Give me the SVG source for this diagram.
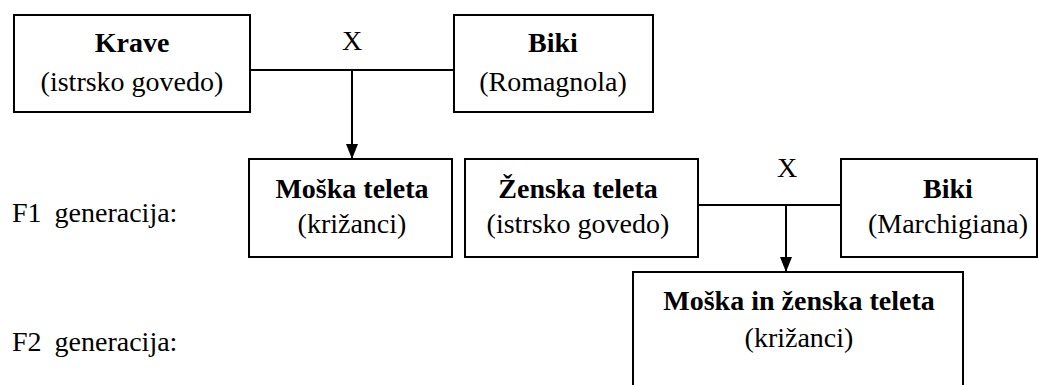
<svg xmlns="http://www.w3.org/2000/svg" width="1038" height="385" viewBox="0 0 1038 385">
<defs>
<marker id="arr" markerWidth="15" markerHeight="12" refX="15" refY="6" orient="auto" markerUnits="userSpaceOnUse" viewBox="0 0 15 12">
<path d="M0,0 L15,6 L0,12 Z" fill="#000"/>
</marker>
</defs>
<rect x="0" y="0" width="1038" height="385" fill="#fff"/>
<g id="labels">
<text x="12" y="222" font-size="28" font-family="Liberation Serif" word-spacing="6">F1 generacija:</text>
<text x="12" y="351" font-size="28" font-family="Liberation Serif" word-spacing="6">F2 generacija:</text>
</g>
<g id="krave">
<rect x="14" y="15" width="236" height="97" fill="#fff" stroke="#000" stroke-width="2"/>
<text x="132" y="52" font-size="28" font-family="Liberation Serif" font-weight="bold" text-anchor="middle">Krave</text>
<text x="132" y="91" font-size="28" font-family="Liberation Serif" text-anchor="middle">(istrsko govedo)</text>
</g>
<g id="biki1">
<rect x="454" y="15" width="199" height="97" fill="#fff" stroke="#000" stroke-width="2"/>
<text x="553" y="52" font-size="28" font-family="Liberation Serif" font-weight="bold" text-anchor="middle">Biki</text>
<text x="553" y="91" font-size="28" font-family="Liberation Serif" text-anchor="middle">(Romagnola)</text>
</g>
<g id="moska">
<rect x="249" y="159" width="203" height="98" fill="#fff" stroke="#000" stroke-width="2"/>
<text x="352" y="198" font-size="28" font-family="Liberation Serif" font-weight="bold" text-anchor="middle">Moška teleta</text>
<text x="352" y="233" font-size="28" font-family="Liberation Serif" text-anchor="middle">(križanci)</text>
</g>
<g id="zenska">
<rect x="465" y="159" width="233" height="98" fill="#fff" stroke="#000" stroke-width="2"/>
<text x="578" y="198" font-size="28" font-family="Liberation Serif" font-weight="bold" text-anchor="middle">Ženska teleta</text>
<text x="578" y="233" font-size="28" font-family="Liberation Serif" text-anchor="middle">(istrsko govedo)</text>
</g>
<g id="biki2">
<rect x="841" y="159" width="196" height="98" fill="#fff" stroke="#000" stroke-width="2"/>
<text x="948" y="198" font-size="28" font-family="Liberation Serif" font-weight="bold" text-anchor="middle">Biki</text>
<text x="948" y="233" font-size="28" font-family="Liberation Serif" text-anchor="middle">(Marchigiana)</text>
</g>
<g id="f2">
<rect x="633" y="272" width="330" height="130" fill="#fff" stroke="#000" stroke-width="2"/>
<text x="799" y="310" font-size="28" font-family="Liberation Serif" font-weight="bold" text-anchor="middle">Moška in ženska teleta</text>
<text x="799" y="347" font-size="28" font-family="Liberation Serif" text-anchor="middle">(križanci)</text>
</g>
<g id="connectors" stroke="#000" stroke-width="2">
<line x1="250" y1="70" x2="454" y2="70"/>
<line x1="352" y1="70" x2="352" y2="159" marker-end="url(#arr)"/>
<line x1="698" y1="205" x2="841" y2="205"/>
<line x1="786" y1="205" x2="786" y2="272" marker-end="url(#arr)"/>
</g>
<g id="cross-labels">
<text x="352" y="50" font-size="28" font-family="Liberation Serif" text-anchor="middle">X</text>
<text x="787" y="177" font-size="28" font-family="Liberation Serif" text-anchor="middle">X</text>
</g>
</svg>
